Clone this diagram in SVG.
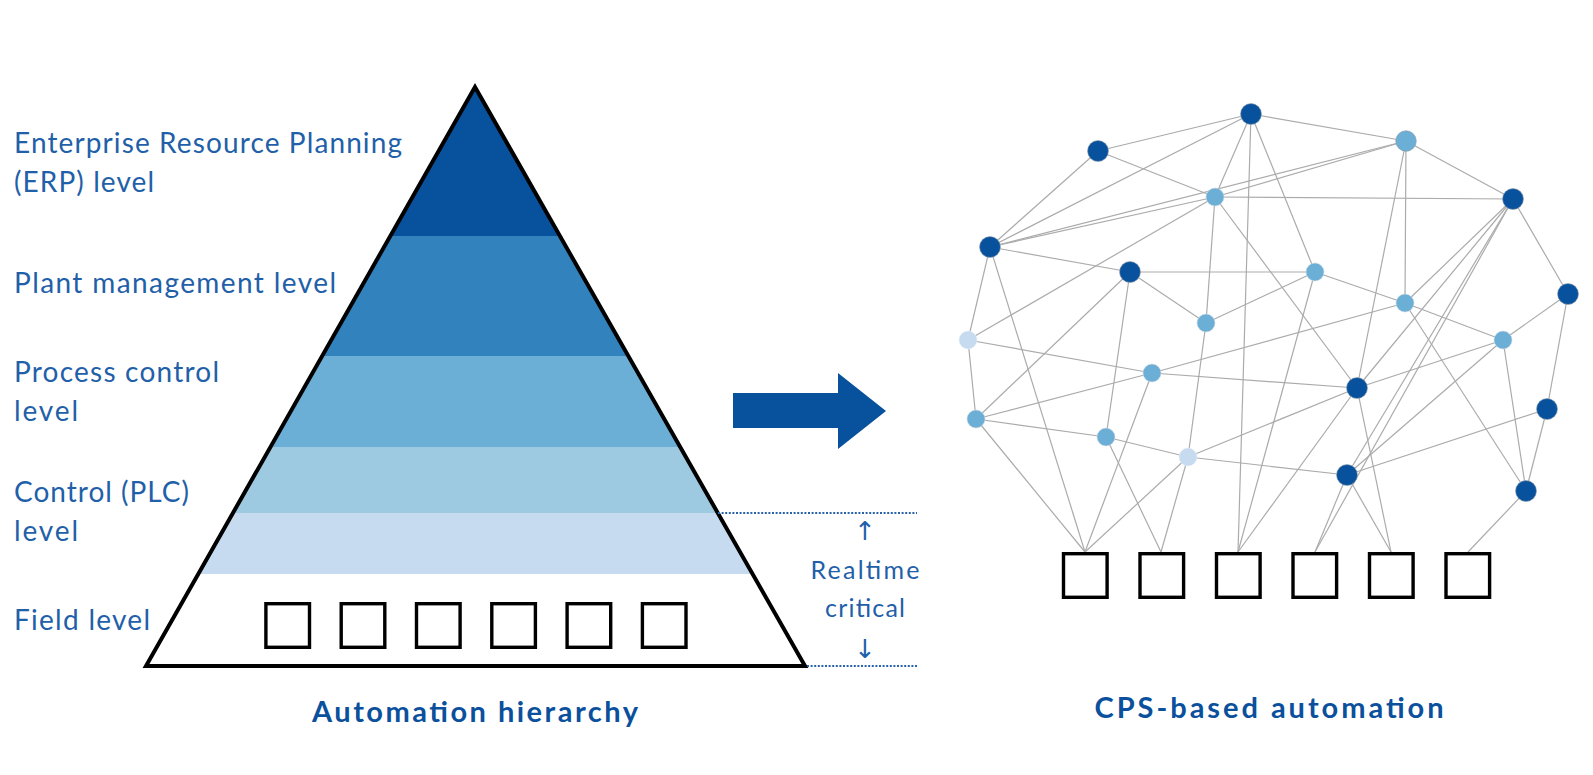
<svg xmlns="http://www.w3.org/2000/svg" width="1593" height="775" viewBox="0 0 1593 775">
<style>
.lbl{font-family:Lato,"Open Sans","DejaVu Sans",sans-serif;font-size:28px;fill:#1f60a9;}
.rt{font-family:Lato,"Open Sans","DejaVu Sans",sans-serif;font-size:25px;fill:#1f60a9;text-anchor:middle;}
.arr{font-family:"DejaVu Sans",sans-serif;font-size:26px;fill:#1f60a9;text-anchor:middle;}
.ttl{font-family:Lato,"Open Sans",sans-serif;font-size:29px;font-weight:bold;fill:#0b509c;text-anchor:middle;}
.e{stroke:#ababab;stroke-width:1.2;fill:none;}
.box{fill:#fff;stroke:#000;stroke-width:3.4;}
.d{fill:#08519c;stroke:#9aa4b0;stroke-width:0.6;}
.m{fill:#6baed6;stroke:#cfd8e0;stroke-width:0.6;}
.l{fill:#c6dbef;stroke:#e6eef6;stroke-width:0.6;}
.dot{stroke:#2a64a8;stroke-width:2;stroke-dasharray:2 1.6;fill:none;}
</style>
<defs>
<clipPath id="tri"><polygon points="475,87 146,666 805,666"/></clipPath>
</defs>
<rect width="1593" height="775" fill="#fff"/>

<g id="pyramid">
<g clip-path="url(#tri)">
<rect x="140" y="80" width="680" height="156" fill="#08519c"/>
<rect x="140" y="236" width="680" height="120" fill="#3182bd"/>
<rect x="140" y="356" width="680" height="91" fill="#6baed6"/>
<rect x="140" y="447" width="680" height="66" fill="#9ecae1"/>
<rect x="140" y="513" width="680" height="61" fill="#c6dbef"/>
</g>
<polygon points="475,87 146,666 805,666" fill="none" stroke="#000" stroke-width="4"/>
</g>

<g id="field-devices-left">
<rect class="box" x="265.9" y="603.7" width="43.6" height="43.6"/>
<rect class="box" x="341.2" y="603.7" width="43.6" height="43.6"/>
<rect class="box" x="416.5" y="603.7" width="43.6" height="43.6"/>
<rect class="box" x="491.8" y="603.7" width="43.6" height="43.6"/>
<rect class="box" x="567.1" y="603.7" width="43.6" height="43.6"/>
<rect class="box" x="642.4" y="603.7" width="43.6" height="43.6"/>
</g>

<g id="labels">
<text class="lbl" x="14" y="153" textLength="388" lengthAdjust="spacing">Enterprise Resource Planning</text>
<text class="lbl" x="14" y="192" textLength="140" lengthAdjust="spacing">(ERP) level</text>
<text class="lbl" x="14" y="293" textLength="322" lengthAdjust="spacing">Plant management level</text>
<text class="lbl" x="14" y="382" textLength="205" lengthAdjust="spacing">Process control</text>
<text class="lbl" x="14" y="421" textLength="64" lengthAdjust="spacing">level</text>
<text class="lbl" x="14" y="502" textLength="175" lengthAdjust="spacing">Control (PLC)</text>
<text class="lbl" x="14" y="541" textLength="64" lengthAdjust="spacing">level</text>
<text class="lbl" x="14" y="630" textLength="136" lengthAdjust="spacing">Field level</text>
</g>

<g id="realtime">
<line class="dot" x1="718" y1="513" x2="917" y2="513"/>
<line class="dot" x1="807" y1="666" x2="917" y2="666"/>
<text class="arr" x="865" y="540">↑</text>
<text class="rt" x="865" y="579" textLength="109" lengthAdjust="spacing">Realtime</text>
<text class="rt" x="865" y="617" textLength="80" lengthAdjust="spacing">critical</text>
<text class="arr" x="865" y="658">↓</text>
</g>

<g id="transition-arrow">
<polygon points="733,393 838,393 838,373 886,411 838,449 838,428 733,428" fill="#08519c"/>
</g>

<g id="connectors">
<line class="e" x1="1098" y1="151" x2="1251" y2="114"/>
<line class="e" x1="1098" y1="151" x2="1215" y2="197"/>
<line class="e" x1="1098" y1="151" x2="990" y2="247"/>
<line class="e" x1="990" y1="247" x2="1251" y2="114"/>
<line class="e" x1="990" y1="247" x2="1406" y2="141"/>
<line class="e" x1="990" y1="247" x2="1215" y2="197"/>
<line class="e" x1="990" y1="247" x2="1130" y2="272"/>
<line class="e" x1="990" y1="247" x2="968" y2="340"/>
<line class="e" x1="990" y1="247" x2="1085" y2="552"/>
<line class="e" x1="1251" y1="114" x2="1406" y2="141"/>
<line class="e" x1="1251" y1="114" x2="1215" y2="197"/>
<line class="e" x1="1251" y1="114" x2="1238" y2="552"/>
<line class="e" x1="1251" y1="114" x2="1315" y2="272"/>
<line class="e" x1="1215" y1="197" x2="1406" y2="141"/>
<line class="e" x1="1215" y1="197" x2="1513" y2="199"/>
<line class="e" x1="1215" y1="197" x2="968" y2="340"/>
<line class="e" x1="1215" y1="197" x2="1206" y2="323"/>
<line class="e" x1="1215" y1="197" x2="1357" y2="388"/>
<line class="e" x1="1406" y1="141" x2="1513" y2="199"/>
<line class="e" x1="1406" y1="141" x2="1405" y2="303"/>
<line class="e" x1="1406" y1="141" x2="1357" y2="388"/>
<line class="e" x1="1513" y1="199" x2="1568" y2="294"/>
<line class="e" x1="1513" y1="199" x2="1405" y2="303"/>
<line class="e" x1="1513" y1="199" x2="1357" y2="388"/>
<line class="e" x1="1513" y1="199" x2="1347" y2="475"/>
<line class="e" x1="1513" y1="199" x2="1315" y2="552"/>
<line class="e" x1="1568" y1="294" x2="1503" y2="340"/>
<line class="e" x1="1568" y1="294" x2="1547" y2="409"/>
<line class="e" x1="1130" y1="272" x2="1315" y2="272"/>
<line class="e" x1="1130" y1="272" x2="1206" y2="323"/>
<line class="e" x1="1130" y1="272" x2="976" y2="419"/>
<line class="e" x1="1130" y1="272" x2="1106" y2="437"/>
<line class="e" x1="1315" y1="272" x2="1206" y2="323"/>
<line class="e" x1="1315" y1="272" x2="1405" y2="303"/>
<line class="e" x1="1315" y1="272" x2="1238" y2="552"/>
<line class="e" x1="1206" y1="323" x2="1188" y2="457"/>
<line class="e" x1="968" y1="340" x2="1152" y2="373"/>
<line class="e" x1="968" y1="340" x2="976" y2="419"/>
<line class="e" x1="1405" y1="303" x2="1503" y2="340"/>
<line class="e" x1="1405" y1="303" x2="1526" y2="491"/>
<line class="e" x1="1152" y1="373" x2="1405" y2="303"/>
<line class="e" x1="1503" y1="340" x2="1357" y2="388"/>
<line class="e" x1="1503" y1="340" x2="1526" y2="491"/>
<line class="e" x1="1503" y1="340" x2="1347" y2="475"/>
<line class="e" x1="1152" y1="373" x2="976" y2="419"/>
<line class="e" x1="1152" y1="373" x2="1085" y2="552"/>
<line class="e" x1="1152" y1="373" x2="1357" y2="388"/>
<line class="e" x1="976" y1="419" x2="1106" y2="437"/>
<line class="e" x1="976" y1="419" x2="1085" y2="552"/>
<line class="e" x1="1106" y1="437" x2="1188" y2="457"/>
<line class="e" x1="1106" y1="437" x2="1161" y2="552"/>
<line class="e" x1="1188" y1="457" x2="1085" y2="552"/>
<line class="e" x1="1188" y1="457" x2="1161" y2="552"/>
<line class="e" x1="1188" y1="457" x2="1357" y2="388"/>
<line class="e" x1="1188" y1="457" x2="1347" y2="475"/>
<line class="e" x1="1357" y1="388" x2="1238" y2="552"/>
<line class="e" x1="1357" y1="388" x2="1391" y2="552"/>
<line class="e" x1="1347" y1="475" x2="1315" y2="552"/>
<line class="e" x1="1347" y1="475" x2="1391" y2="552"/>
<line class="e" x1="1347" y1="475" x2="1547" y2="409"/>
<line class="e" x1="1547" y1="409" x2="1526" y2="491"/>
<line class="e" x1="1526" y1="491" x2="1468" y2="552"/>
</g>

<g id="nodes">
<circle id="nA" class="d" cx="1251" cy="114" r="10.5"/>
<circle id="nB" class="d" cx="1098" cy="151" r="10.5"/>
<circle id="nC" class="m" cx="1406" cy="141" r="10.3" style="stroke:#8a9aa8"/>
<circle id="nD" class="m" cx="1215" cy="197" r="9"/>
<circle id="nE" class="d" cx="1513" cy="199" r="10.5"/>
<circle id="nF" class="d" cx="990" cy="247" r="10.5"/>
<circle id="nG" class="d" cx="1130" cy="272" r="10.5"/>
<circle id="nH" class="m" cx="1315" cy="272" r="9"/>
<circle id="nI" class="d" cx="1568" cy="294" r="10.5"/>
<circle id="nJ" class="m" cx="1405" cy="303" r="9"/>
<circle id="nK" class="m" cx="1206" cy="323" r="9"/>
<circle id="nL" class="l" cx="968" cy="340" r="9"/>
<circle id="nM" class="m" cx="1503" cy="340" r="9"/>
<circle id="nN" class="m" cx="1152" cy="373" r="9"/>
<circle id="nO" class="d" cx="1357" cy="388" r="10.5"/>
<circle id="nP" class="m" cx="976" cy="419" r="9"/>
<circle id="nQ" class="d" cx="1547" cy="409" r="10.5"/>
<circle id="nR" class="m" cx="1106" cy="437" r="9"/>
<circle id="nS" class="l" cx="1188" cy="457" r="9"/>
<circle id="nT" class="d" cx="1347" cy="475" r="10.5"/>
<circle id="nU" class="d" cx="1526" cy="491" r="10.5"/>
</g>

<g id="field-devices-right">
<rect class="box" x="1063.5" y="553.7" width="43.6" height="43.6"/>
<rect class="box" x="1140" y="553.7" width="43.6" height="43.6"/>
<rect class="box" x="1216.5" y="553.7" width="43.6" height="43.6"/>
<rect class="box" x="1293" y="553.7" width="43.6" height="43.6"/>
<rect class="box" x="1369.5" y="553.7" width="43.6" height="43.6"/>
<rect class="box" x="1446" y="553.7" width="43.6" height="43.6"/>
</g>

<g id="titles">
<text class="ttl" x="475" y="722" textLength="326" lengthAdjust="spacing">Automation hierarchy</text>
<text class="ttl" x="1269" y="718" textLength="349" lengthAdjust="spacing">CPS-based automation</text>
</g>
</svg>
